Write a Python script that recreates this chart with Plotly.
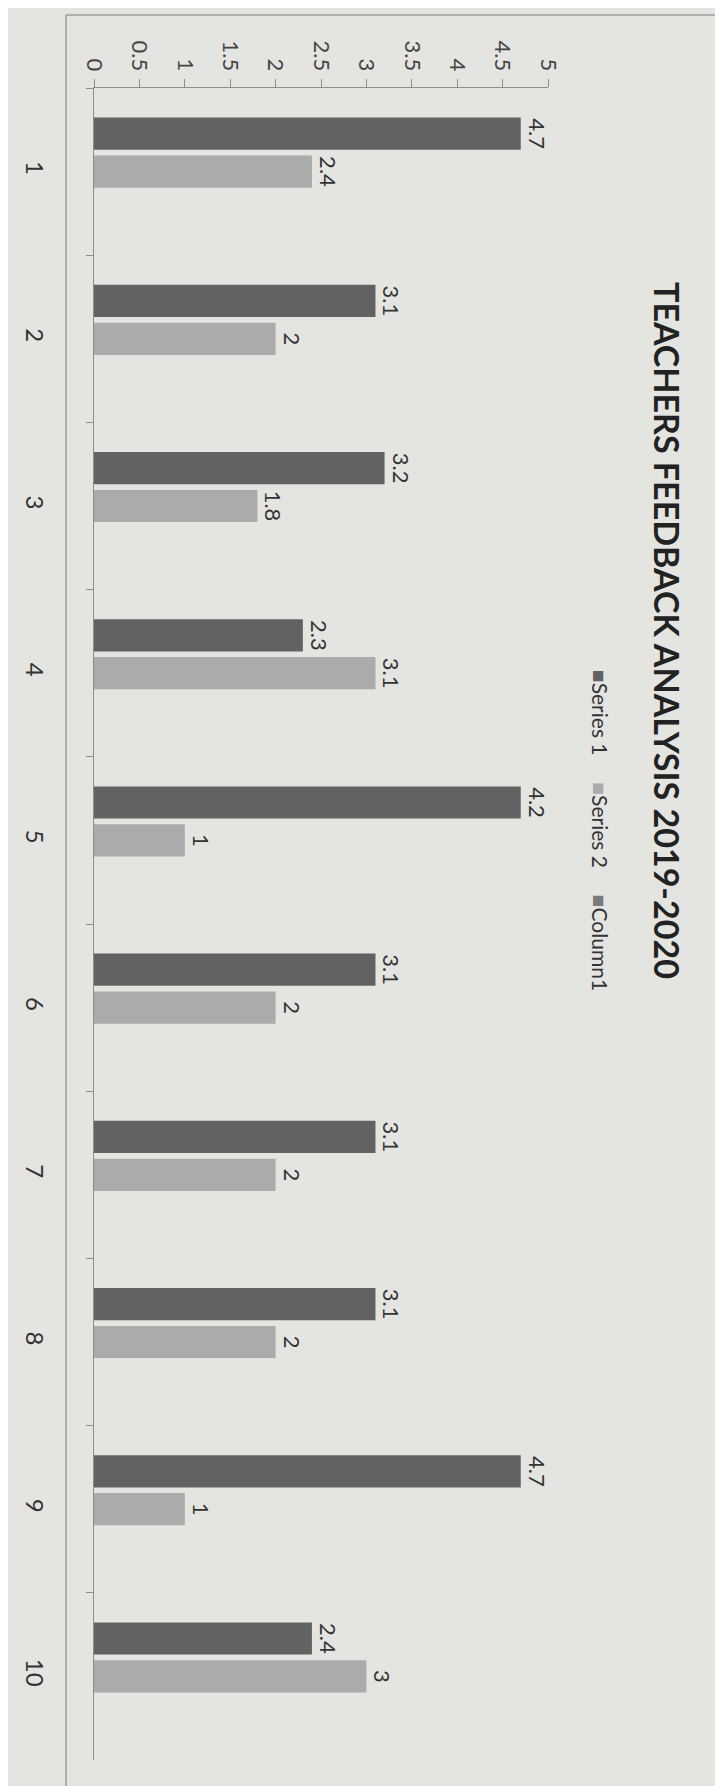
import plotly.graph_objects as go

categories = ["1", "2", "3", "4", "5", "6", "7", "8", "9", "10"]
series1 = [4.7, 3.1, 3.2, 2.3, 4.7, 3.1, 3.1, 3.1, 4.7, 2.4]
series1_labels = ["4.7", "3.1", "3.2", "2.3", "4.2", "3.1", "3.1", "3.1", "4.7", "2.4"]
series2 = [2.4, 2, 1.8, 3.1, 1, 2, 2, 2, 1, 3]
series2_labels = ["2.4", "2", "1.8", "3.1", "1", "2", "2", "2", "1", "3"]
column1 = [None] * 10
value_ticks = [0, 0.5, 1, 1.5, 2, 2.5, 3, 3.5, 4, 4.5, 5]

title_text = "TEACHERS FEEDBACK ANALYSIS 2019-2020"
legend_names = ["Series 1", "Series 2", "Column1"]

DARK = "#626262"
LIGHT = "#ababab"
COL1 = "#7a7a7a"
BG = "#e4e5e1"
AXIS = "#8c8c8c"
FONT = "Lato, Open Sans, sans-serif"

W, H = 723, 1786
ML, MR, MT, MB = 86, 183, 80, 34
PW, PH = W - ML - MR, H - MT - MB


def px_to_paper(px, py):
    return (px - ML) / PW, (H - MB - py) / PH


fig = go.Figure()
common = dict(orientation="h", textposition="outside", textangle=90,
              constraintext="none", cliponaxis=False,
              textfont=dict(family=FONT, size=22, color="#333333"),
              showlegend=False, hoverinfo="skip")
fig.add_trace(go.Bar(y=categories, x=series1, text=series1_labels,
                     texttemplate="%{text}", name=legend_names[0],
                     marker=dict(color=DARK, line=dict(width=0)), **common))
fig.add_trace(go.Bar(y=categories, x=series2, text=series2_labels,
                     texttemplate="%{text}", name=legend_names[1],
                     marker=dict(color=LIGHT, line=dict(width=0)), **common))
fig.add_trace(go.Bar(y=categories, x=column1, name=legend_names[2],
                     marker=dict(color=COL1, line=dict(width=0)), **common))

fig.update_layout(
    width=W, height=H,
    margin=dict(l=ML, r=MR, t=MT, b=MB, autoexpand=False),
    paper_bgcolor=BG, plot_bgcolor=BG,
    barmode="group", bargap=0.32, bargroupgap=0.15,
    font=dict(family=FONT, color="#333333"),
    xaxis=dict(side="top", range=[0, 5], tickvals=value_ticks,
               ticktext=[f"{v:g}" for v in value_ticks],
               showline=True, linecolor=AXIS, linewidth=1,
               ticks="outside", ticklen=8, tickcolor=AXIS,
               tickangle=90, tickfont=dict(size=22, color="#444444"),
               showgrid=False, zeroline=False, automargin=False),
    yaxis=dict(type="category", categoryorder="array", categoryarray=categories,
               autorange="reversed", showline=True, linecolor=AXIS, linewidth=1,
               ticks="outside", tickson="boundaries", ticklen=7, tickcolor=AXIS,
               tickangle=90, tickfont=dict(size=24, color="#333333"),
               ticklabelstandoff=38, showgrid=False, zeroline=False,
               automargin=False),
)

# chart frame
fx0, fy0 = px_to_paper(58, 1780)
fx1, fy1 = px_to_paper(708, 7)
fig.add_shape(type="rect", xref="paper", yref="paper", x0=fx0, y0=fy0, x1=fx1, y1=fy1,
              line=dict(color="#7a7a7a", width=1), fillcolor="rgba(0,0,0,0)", layer="above")

# title (rotated like the photographed page)
tx, ty = px_to_paper(660, 622)
fig.add_annotation(xref="paper", yref="paper", x=tx, y=ty, text=f"<b>{title_text}</b>",
                   textangle=90, showarrow=False, xanchor="center", yanchor="middle",
                   font=dict(family=FONT, size=34, color="#222222"))

# legend (rotated)
legend_colors = [DARK, LIGHT, COL1]
gap = "&nbsp;" * 5
legend_text = gap.join(
    f"<span style='color:{c}'>■</span>{n}" for c, n in zip(legend_colors, legend_names))
lx, ly = px_to_paper(592, 822)
fig.add_annotation(xref="paper", yref="paper", x=lx, y=ly, text=legend_text,
                   textangle=90, showarrow=False, xanchor="center", yanchor="middle",
                   font=dict(family=FONT, size=21, color="#333333"))

fig.write_html("out.html")
